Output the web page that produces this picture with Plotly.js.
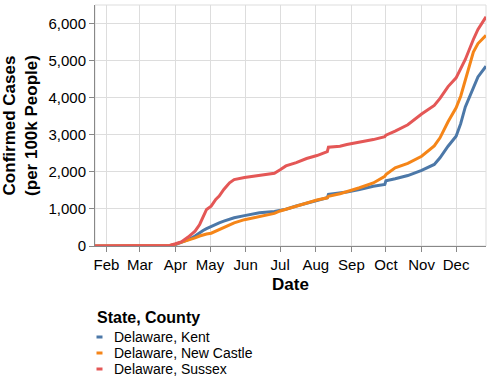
<!DOCTYPE html>
<html>
<head>
<meta charset="utf-8">
<script src="https://cdn.plot.ly/plotly-3.0.1.min.js"></script>
<style>html,body{margin:0;padding:0;background:#fff;}#chart{width:493px;height:382px;}</style>
</head>
<body>
<div id="chart"></div>
<script>
var dates = ['2020-01-22','2020-03-10','2020-03-20','2020-03-27','2020-04-01','2020-04-06','2020-04-12','2020-04-18','2020-04-22','2020-04-25','2020-04-28','2020-05-02','2020-05-06','2020-05-09','2020-05-13','2020-05-18','2020-05-22','2020-05-31','2020-06-13','2020-06-26','2020-07-01','2020-07-06','2020-07-15','2020-07-24','2020-08-02','2020-08-11','2020-08-12','2020-08-22','2020-08-28','2020-09-08','2020-09-20','2020-09-30','2020-10-01','2020-10-09','2020-10-20','2020-11-01','2020-11-12','2020-11-17','2020-11-24','2020-12-01','2020-12-05','2020-12-09','2020-12-16','2020-12-20','2020-12-27'];
var kent      = [0,0,1,10,40,90,170,270,360,420,470,530,580,625,670,720,760,820,895,930,955,990,1080,1150,1240,1300,1390,1430,1455,1520,1610,1660,1760,1812,1900,2040,2200,2380,2692,2960,3300,3750,4300,4560,4850];
var newCastle = [0,0,2,15,50,95,160,220,270,300,325,345,400,440,500,570,625,710,800,880,945,990,1080,1160,1240,1300,1340,1410,1460,1570,1700,1880,1930,2108,2230,2420,2700,2918,3350,3727,4040,4470,5230,5460,5680];
var sussex    = [0,0,2,15,60,110,240,400,580,800,985,1075,1255,1345,1525,1705,1790,1850,1900,1960,2055,2160,2250,2360,2440,2545,2665,2690,2735,2800,2870,2950,2990,3097,3270,3560,3790,3980,4300,4535,4780,5030,5570,5840,6180];
var seriesNames = ['Delaware, Kent','Delaware, New Castle','Delaware, Sussex'];
var seriesValues = [kent, newCastle, sussex];
var colors = ['#4c78a8','#f58518','#e45756'];
var legendTitle = 'State, County';
var xTitle = 'Date';
var yTitle = 'Confirmed Cases<br>(per 100k People)';

var FONT = 'Liberation Sans, Arial, sans-serif';
var W = 493, H = 382, ML = 95, MR = 7, MT = 5, MB = 136;
var PW = W - ML - MR, PH = H - MT - MB;
function pxX(px){ return (px - ML) / PW; }
function pxY(py){ return (H - MB - py) / PH; }

var traces = seriesValues.map(function(vals, i){
  return {x: dates, y: vals, type: 'scatter', mode: 'lines', name: seriesNames[i],
          line: {color: colors[i], width: 3}, showlegend: false};
});

var annotations = [{
  text: legendTitle, xref: 'paper', yref: 'paper', x: pxX(95), y: pxY(317.5),
  xanchor: 'left', yanchor: 'middle', showarrow: false,
  font: {family: FONT, size: 16, color: '#000', weight: 'bold'}
}];
var shapes = [{type: 'rect', xref: 'paper', yref: 'paper', x0: 0, x1: 1, y0: 0, y1: 1,
  line: {color: '#ddd', width: 1}, layer: 'below'}];
seriesNames.forEach(function(n, i){
  var cy = 337 + i * 16;
  annotations.push({text: n, xref: 'paper', yref: 'paper', x: pxX(112), y: pxY(cy),
    xanchor: 'left', yanchor: 'middle', showarrow: false,
    font: {family: FONT, size: 14, color: '#000'}});
  shapes.push({type: 'line', xref: 'paper', yref: 'paper', x0: pxX(96.5), x1: pxX(102.5),
    y0: pxY(cy), y1: pxY(cy), line: {color: colors[i], width: 3}});
});

var layout = {
  width: W, height: H,
  margin: {l: ML, r: MR, t: MT, b: MB, pad: 0},
  paper_bgcolor: '#fff', plot_bgcolor: '#fff',
  font: {family: FONT, color: '#000'},
  showlegend: false,
  xaxis: {
    type: 'date', range: ['2020-01-22', '2020-12-27'],
    tick0: '2020-02-01', dtick: 'M1', tickformat: '%b',
    ticks: 'outside', ticklen: 5, tickcolor: '#888', tickwidth: 1,
    showline: true, linecolor: '#888', linewidth: 1,
    showgrid: true, gridcolor: '#ddd', zeroline: false,
    tickfont: {family: FONT, size: 15, color: '#000'},
    title: {text: xTitle, font: {family: FONT, size: 17, color: '#000', weight: 'bold'}, standoff: 6}
  },
  yaxis: {
    range: [0, 6500], dtick: 1000, tick0: 0, tickformat: ',d',
    ticks: 'outside', ticklen: 5, tickcolor: '#888', tickwidth: 1,
    showline: true, linecolor: '#888', linewidth: 1,
    showgrid: true, gridcolor: '#ddd', zeroline: false,
    tickfont: {family: FONT, size: 15, color: '#000'},
    title: {text: yTitle, font: {family: FONT, size: 17, color: '#000', weight: 'bold'}, standoff: 6}
  },
  annotations: annotations,
  shapes: shapes
};

Plotly.newPlot('chart', traces, layout, {displayModeBar: false, staticPlot: true});
</script>
</body>
</html>
